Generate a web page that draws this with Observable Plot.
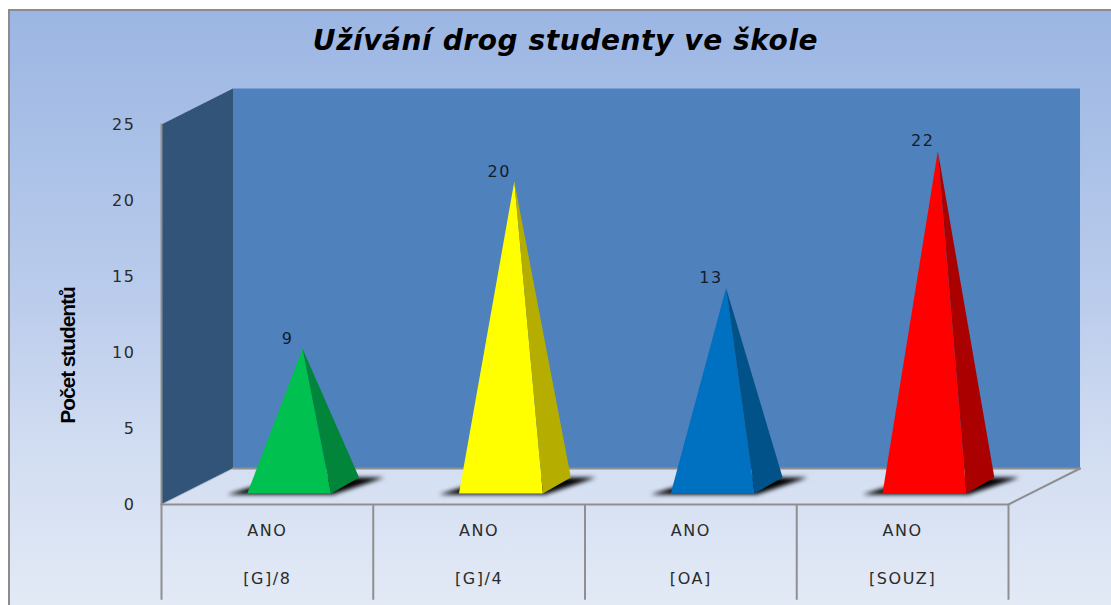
<!DOCTYPE html>
<html><head><meta charset="utf-8">
<script src="https://cdn.jsdelivr.net/npm/d3@7"></script>
<script src="https://cdn.jsdelivr.net/npm/@observablehq/plot@0.6"></script>
<style>
html,body{margin:0;padding:0;background:#fff;width:1111px;height:605px;overflow:hidden}
#frame{position:absolute;left:8px;top:9px;width:1103px;height:596px;box-sizing:border-box;border-left:2px solid #8c8c8c;border-top:2px solid #8c8c8c;
background:linear-gradient(180deg,#9cb6e3 0%,#a9c0e7 22%,#bccdec 50%,#d0dcf1 72%,#e3eaf6 100%)}
h1{position:absolute;left:0;top:24px;width:1131px;margin:0;text-align:center;font:italic 700 28px "DejaVu Sans";letter-spacing:0.6px;color:#000}
#chart{position:absolute;left:0;top:0}
</style></head><body>
<div id="frame"></div>
<h1>Užívání drog studenty ve škole</h1>
<div id="chart"></div>
<script>
const answers = ["ANO","ANO","ANO","ANO"];
const schools = ["[G]/8","[G]/4","[OA]","[SOUZ]"];
const counts = [9,20,13,22];
const frontColors = ["#00c050","#ffff00","#0070c0","#ff0000"];
const sideColors = ["#00853a","#b5ae00","#005289","#ab0000"];
const yTicks = [0,5,10,15,20,25];
const wallColor = "#4f81bd", sideWallColor = "#325479", gridColor = "#8f8f8f";

// oblique projection of a (category, value, depth) point onto the plot's x/y scales
const depthX = 0.3377, depthY = 2.368, yMax = 25, nCat = counts.length, belowAxis = -6.3;
const proj = (u, v, w) => ({x: u + w * depthX, y: v + w * depthY});
const poly = (id, fill, pts) => pts.map(([u,v,w]) => ({...proj(u,v,w), id, fill}));

const wFront = 0.305, wBack = 0.75, half = 0.198, wApex = (wFront + wBack) / 2, backInset = 0.018, apexShift = 0.012;
const walls = [
  ...poly("back", wallColor, [[0,0,1],[nCat,0,1],[nCat,yMax,1],[0,yMax,1]]),
  ...poly("side", sideWallColor, [[0,0,0],[0,0,1],[0,yMax,1],[0,yMax,0]])
];
const shadows = counts.flatMap((_, i) => { const c = i + .5; return poly("s"+i, "#000", [
  [c-half-.085,0,wFront-.03],[c+half+.02,0,wFront-.03],[c+half+.1,0,wBack],[c-half+.02,0,wBack]]); });
const faces = counts.flatMap((n, i) => { const c = i + .5; return [
  ...poly("f"+i, frontColors[i], [[c-half,0,wFront],[c+half,0,wFront],[c-apexShift,n,wApex]]),
  ...poly("r"+i, sideColors[i], [[c+half,0,wFront],[c+half-backInset,0,wBack],[c-apexShift,n,wApex]])
];});
const apexes = counts.map((n, i) => ({...proj(i+.5-apexShift,n,wApex), n}));
const edges = [
  [[0,0,0],[nCat,0,0]], [[0,0,0],[0,yMax,0]], [[nCat,0,0],[nCat,0,1]], [[0,0,1],[nCat,0,1]]
].flatMap((e,k) => e.map(([u,v,w]) => ({...proj(u,v,w), k})));
const floorEdge = [[0,0,0],[0,0,1]].map(([u,v,w]) => proj(u,v,w));
const centers = counts.map((_, i) => i + .5);
const seps = d3.range(nCat + 1);
const blur = (index, scales, values, dims, ctx, next) => { const g = next(index, scales, values, dims, ctx); g.style.filter = "blur(2.2px)"; return g; };
const polyMark = (d, extra={}) => Plot.line(d, {x:"x", y:"y", z:"id", fill:"fill", stroke:"none", ...extra});
const spaced = (index, scales, values, dims, ctx, next) => { const g = next(index, scales, values, dims, ctx); g.style.letterSpacing = "1.6px"; return g; };

const plot = Plot.plot({
  width:1111, height:605, marginLeft:161, marginRight:103, marginTop:124, marginBottom:101,
  style:{background:"transparent", fontFamily:"DejaVu Sans", overflow:"visible"},
  x:{domain:[0,nCat], axis:null}, y:{domain:[0,yMax], axis:null}, color:{type:"identity"},
  marks:[
    polyMark(walls),
    Plot.line(floorEdge, {x:"x", y:"y", stroke:"#b4bccb", strokeWidth:1}),
    Plot.line(edges, {x:"x", y:"y", z:"k", stroke:gridColor, strokeWidth:2}),
    Plot.ruleX(seps, {x:d=>d, y1:0, y2:belowAxis, stroke:gridColor, strokeWidth:2}),
    polyMark(shadows, {render:blur}),
    polyMark(faces),
    Plot.axisY({ticks:yTicks, anchor:"left", tickSize:0, tickPadding:26, fontSize:16, fill:"#2b2b2b", label:null, render:spaced}),
    Plot.axisX(centers, {anchor:"bottom", tickSize:0, tickPadding:20, tickFormat:(d,i)=>answers[i], fontSize:16, fill:"#2b2b2b", label:null, render:spaced}),
    Plot.axisX(centers, {anchor:"bottom", tickSize:0, tickPadding:68, tickFormat:(d,i)=>schools[i], fontSize:16, fill:"#2b2b2b", label:null, render:spaced}),
    Plot.text(apexes, {x:"x", y:"y", text:d=>String(d.n), dx:-15, dy:-10, fontSize:16, fill:"#111d2c", render:spaced}),
    Plot.text(["Počet studentů"], {frameAnchor:"left", textAnchor:"middle", text:d=>d, rotate:-90, dx:-93, dy:41, fontSize:21, fontWeight:700, fontFamily:"Liberation Sans", fill:"#000", render:(i,s,v,d,c,n)=>{const g=n(i,s,v,d,c); g.style.letterSpacing="-1.1px"; return g;}})
  ]
});
document.getElementById("chart").append(plot);
</script></body></html>
